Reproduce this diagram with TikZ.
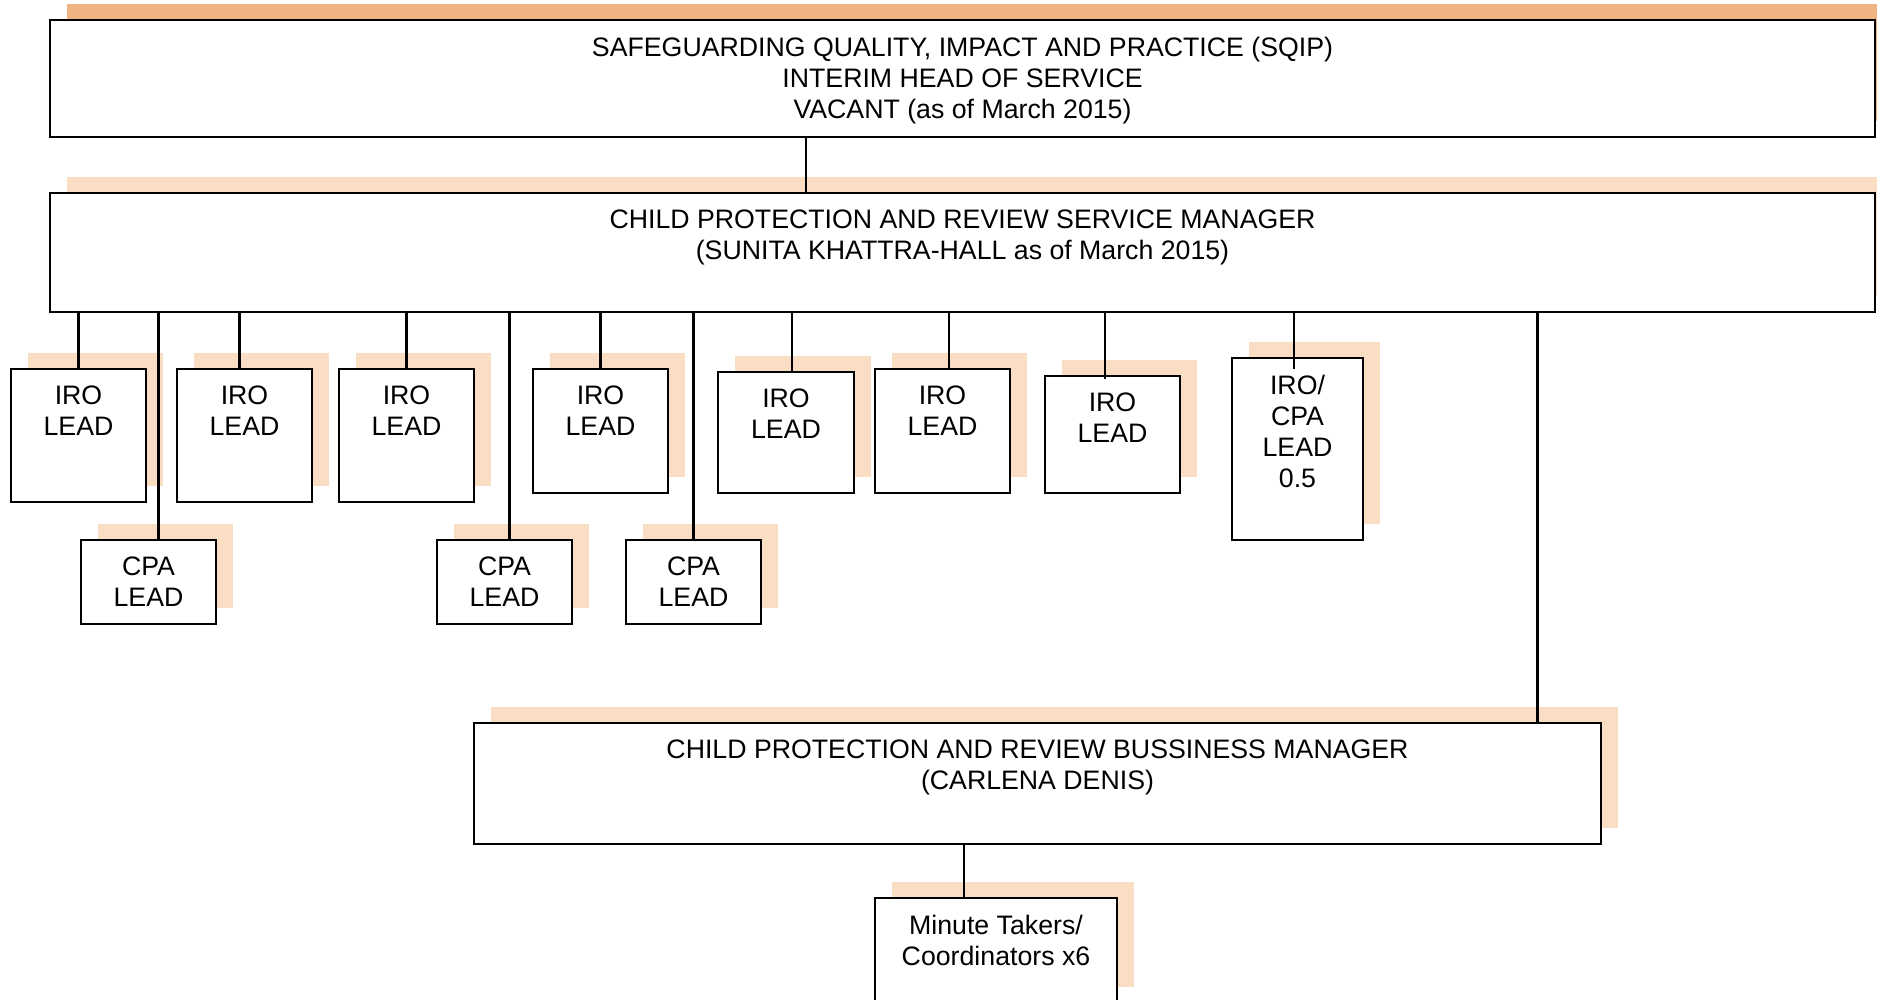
\documentclass[tikz,border=0pt]{standalone}
\usepackage{fontspec}
\setmainfont{Liberation Sans}
\usetikzlibrary{shadows}
\definecolor{shadedark}{RGB}{240,180,130}
\definecolor{shadelight}{RGB}{250,222,196}

\begin{document}
\begin{tikzpicture}[
        orgbox/.style={draw, line width=0.6pt, fill=white, inner sep=0pt, outer sep=0pt,
            anchor=north west,
            general shadow={fill=#1, shadow xshift=1.65mm, shadow yshift=1.6mm}},
        orgbox/.default=shadelight,
        boxtext/.style={anchor=north, inner sep=0pt, yshift=-1.65mm, align=center,
            font=\fontsize{7.6}{8.8}\selectfont},
        link/.style={line width=0.6pt}
    ]
    \useasboundingbox (0,0) rectangle (18.77,-10);

    % Head of service
    \node[orgbox=shadedark, minimum width=18.25cm, minimum height=1.17cm] (head) at (0.50,-0.20) {};
    \node[boxtext] (head-t) at (head.north) {SAFEGUARDING QUALITY, IMPACT AND PRACTICE (SQIP)\\INTERIM HEAD OF SERVICE\\VACANT (as of March 2015)};

    % Service manager
    \node[orgbox, minimum width=18.25cm, minimum height=1.19cm] (mgr) at (0.50,-1.93) {};
    \node[boxtext] (mgr-t) at (mgr.north) {CHILD PROTECTION AND REVIEW SERVICE MANAGER\\(SUNITA KHATTRA-HALL as of March 2015)};

    % IRO leads
    \node[orgbox, minimum width=1.35cm, minimum height=1.33cm] (iro1) at (0.11,-3.69) {};
    \node[orgbox, minimum width=1.35cm, minimum height=1.33cm] (iro2) at (1.77,-3.69) {};
    \node[orgbox, minimum width=1.35cm, minimum height=1.33cm] (iro3) at (3.39,-3.69) {};
    \node[orgbox, minimum width=1.35cm, minimum height=1.24cm] (iro4) at (5.33,-3.69) {};
    \node[orgbox, minimum width=1.36cm, minimum height=1.21cm] (iro5) at (7.18,-3.72) {};
    \node[orgbox, minimum width=1.35cm, minimum height=1.24cm] (iro6) at (8.75,-3.69) {};
    \node[orgbox, minimum width=1.35cm, minimum height=1.17cm] (iro7) at (10.45,-3.76) {};
    \node[orgbox, minimum width=1.31cm, minimum height=1.82cm] (irocpa) at (12.32,-3.58) {};
    \node[boxtext] (iro1-t) at (iro1.north) {IRO\\LEAD};
    \node[boxtext] (iro2-t) at (iro2.north) {IRO\\LEAD};
    \node[boxtext] (iro3-t) at (iro3.north) {IRO\\LEAD};
    \node[boxtext] (iro4-t) at (iro4.north) {IRO\\LEAD};
    \node[boxtext] (iro5-t) at (iro5.north) {IRO\\LEAD};
    \node[boxtext] (iro6-t) at (iro6.north) {IRO\\LEAD};
    \node[boxtext] (iro7-t) at (iro7.north) {IRO\\LEAD};
    \node[boxtext] (irocpa-t) at (irocpa.north) {IRO/\\CPA\\LEAD\\0.5};

    % CPA leads
    \node[orgbox, minimum width=1.35cm, minimum height=0.84cm] (cpa1) at (0.81,-5.40) {};
    \node[orgbox, minimum width=1.35cm, minimum height=0.84cm] (cpa2) at (4.37,-5.40) {};
    \node[orgbox, minimum width=1.35cm, minimum height=0.84cm] (cpa3) at (6.26,-5.40) {};
    \node[boxtext] (cpa1-t) at (cpa1.north) {CPA\\LEAD};
    \node[boxtext] (cpa2-t) at (cpa2.north) {CPA\\LEAD};
    \node[boxtext] (cpa3-t) at (cpa3.north) {CPA\\LEAD};

    % Business manager and minute takers
    \node[orgbox, minimum width=11.27cm, minimum height=1.21cm] (bus) at (4.74,-7.23) {};
    \node[boxtext] (bus-t) at (bus.north) {CHILD PROTECTION AND REVIEW BUSSINESS MANAGER\\(CARLENA DENIS)};
    \node[orgbox, minimum width=2.42cm, minimum height=1.05cm] (minute) at (8.75,-8.98) {};
    \node[boxtext] (minute-t) at (minute.north) {Minute Takers/\\Coordinators x6};

    % Links
    \draw[link] ([xshift=-15.65mm]head.south) -- ([xshift=-15.65mm]mgr.north);
    \draw[link] (iro1.north) -- (iro1.north |- mgr.south);
    \draw[link] ([xshift=1mm]cpa1.north) -- ([xshift=1mm]cpa1.north |- mgr.south);
    \draw[link] ([xshift=-0.5mm]iro2.north) -- ([xshift=-0.5mm]iro2.north |- mgr.south);
    \draw[link] (iro3.north) -- (iro3.north |- mgr.south);
    \draw[link] ([xshift=0.5mm]cpa2.north) -- ([xshift=0.5mm]cpa2.north |- mgr.south);
    \draw[link] (iro4.north) -- (iro4.north |- mgr.south);
    \draw[link] (cpa3.north) -- (cpa3.north |- mgr.south);
    \draw[link] ([xshift=0.6mm]iro5.north) -- ([xshift=0.6mm]iro5.north |- mgr.south);
    \draw[link] ([xshift=0.65mm]iro6.north) -- ([xshift=0.65mm]iro6.north |- mgr.south);
    \draw[link] ([xshift=-0.75mm, yshift=-0.3mm]iro7.north) -- ([xshift=-0.75mm]iro7.north |- mgr.south);
    \draw[link] ([xshift=-0.35mm, yshift=-1.1mm]irocpa.north) -- ([xshift=-0.35mm]irocpa.north |- mgr.south);
    \draw[link] ([xshift=50mm]bus.north) -- ([xshift=50mm]bus.north |- mgr.south);
    \draw[link] ([xshift=-3.2mm]minute.north) -- ([xshift=-3.2mm]minute.north |- bus.south);
\end{tikzpicture}
\end{document}
